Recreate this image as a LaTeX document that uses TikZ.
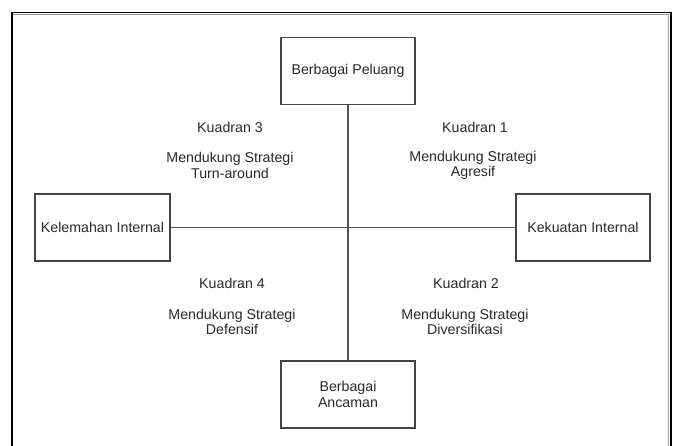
\documentclass[tikz,border=0pt]{standalone}
\usepackage{fontspec}
\setmainfont{Liberation Sans}
\begin{document}
\begin{tikzpicture}[x=1pt,y=-1pt,
  box/.style={draw=boxc, line width=1.1pt, minimum width=134pt, minimum height=67pt, inner sep=2pt, align=center, text=txtc, font=\fontsize{14.2}{15.5}\selectfont},
  lbl/.style={inner sep=0pt, align=center, text=txtc, font=\fontsize{14.2}{15.5}\selectfont},
  conn/.style={draw=linec, line width=1.2pt}]
\definecolor{boxc}{HTML}{444444}
\definecolor{linec}{HTML}{555555}
\definecolor{txtc}{HTML}{2A2A2A}
\definecolor{frameg}{HTML}{999999}
\useasboundingbox (0,0) rectangle (676,446);
\fill[white] (0,0) rectangle (676,446);
% outer frame
\draw[black, line width=1.4pt] (12,446) -- (12,12.5) -- (671,12.5) -- (671,446);
\draw[frameg, line width=1pt] (13,15) -- (669,15);
\draw[frameg, line width=1pt] (668.5,15) -- (668.5,446);
% boxes
\node[box] (top) at (348,71) {Berbagai Peluang};
\node[box] (bot) at (348,394.5) {Berbagai\\Ancaman};
\node[box, minimum width=135pt] (lft) at (102.5,227.5) {Kelemahan Internal};
\node[box] (rgt) at (583,227.5) {Kekuatan Internal};
% connectors
\draw[conn] (top.south) -- (bot.north);
\draw[conn] (lft.east) -- (rgt.west);
% labels
\node[lbl] (k3) at (230,127) {Kuadran 3};
\node[lbl] (s3) at (230,165.5) {Mendukung Strategi\\Turn-around};
\node[lbl] (k1) at (475,127) {Kuadran 1};
\node[lbl] (s1) at (473,165.5) {Mendukung Strategi\\Agresif};
\node[lbl] (k4) at (232,283) {Kuadran 4};
\node[lbl] (s4) at (232,322) {Mendukung Strategi\\Defensif};
\node[lbl] (k2) at (466,283) {Kuadran 2};
\node[lbl] (s2) at (465,322) {Mendukung Strategi\\Diversifikasi};
\end{tikzpicture}
\end{document}
